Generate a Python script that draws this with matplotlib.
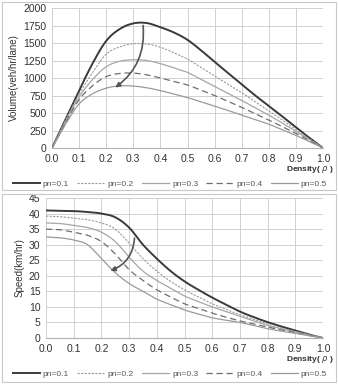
import matplotlib
matplotlib.use('Agg')
import matplotlib.pyplot as plt
from matplotlib.patches import Rectangle
import numpy as np

plt.rcParams['font.family'] = ['Liberation Sans', 'DejaVu Sans']

density = [0.0, 0.05, 0.1, 0.15, 0.2, 0.25, 0.3, 0.35, 0.4, 0.45, 0.5,
           0.55, 0.6, 0.65, 0.7, 0.75, 0.8, 0.85, 0.9, 0.95, 1.0]
labels = ['pn=0.1', 'pn=0.2', 'pn=0.3', 'pn=0.4', 'pn=0.5']

volume_01 = [0, 410, 820, 1210, 1530, 1700, 1780, 1785, 1725, 1650, 1545,
             1395, 1230, 1070, 910, 750, 600, 450, 295, 145, 0]
volume_02 = [0, 400, 770, 1080, 1340, 1445, 1490, 1485, 1440, 1360, 1270,
             1150, 1030, 910, 790, 660, 530, 400, 265, 130, 0]
volume_03 = [0, 380, 730, 980, 1160, 1240, 1260, 1250, 1205, 1145, 1080,
             980, 880, 780, 680, 575, 470, 355, 240, 120, 0]
volume_04 = [0, 360, 690, 890, 1020, 1065, 1070, 1045, 1000, 950, 900,
             825, 750, 665, 580, 490, 400, 305, 210, 105, 0]
volume_05 = [0, 340, 630, 775, 855, 888, 885, 860, 820, 770, 720,
             660, 600, 535, 470, 405, 340, 260, 180, 90, 0]

speed_01 = [41.0, 40.9, 40.8, 40.5, 40.0, 38.8, 35.5, 30.0, 25.5, 21.5, 18.2,
            15.5, 13.0, 10.7, 8.5, 6.7, 5.1, 3.7, 2.4, 1.1, 0.0]
speed_02 = [39.2, 39.0, 38.5, 38.0, 37.0, 35.0, 30.5, 25.5, 21.5, 18.2, 15.5,
            13.2, 11.0, 9.2, 7.5, 6.0, 4.5, 3.2, 2.0, 1.0, 0.0]
speed_03 = [37.0, 36.8, 36.2, 35.5, 34.0, 31.0, 26.0, 21.5, 18.5, 16.0, 13.5,
            11.7, 10.0, 8.5, 7.0, 5.5, 4.0, 3.0, 2.0, 1.0, 0.0]
speed_04 = [35.0, 34.8, 34.0, 33.0, 31.0, 27.0, 22.0, 18.5, 15.5, 13.2, 11.0,
            9.5, 8.0, 6.7, 5.5, 4.5, 3.5, 2.6, 1.7, 0.8, 0.0]
speed_05 = [32.5, 32.2, 31.5, 30.0, 25.5, 21.0, 17.5, 15.0, 12.5, 10.7, 9.0,
            7.7, 6.5, 5.7, 5.0, 4.0, 3.0, 2.2, 1.5, 0.7, 0.0]

volumes = [volume_01, volume_02, volume_03, volume_04, volume_05]
speeds = [speed_01, speed_02, speed_03, speed_04, speed_05]

styles = [
    dict(color='#3a3a3a', lw=1.4, ls='-'),
    dict(color='#9a9a9a', lw=0.8, ls=(0, (2, 1.2))),
    dict(color='#a6a6a6', lw=0.9, ls='-'),
    dict(color='#6e6e6e', lw=0.9, ls=(0, (5, 3))),
    dict(color='#9a9a9a', lw=0.9, ls='-'),
]


def smooth(x, y, n=12):
    # catmull-rom rendering, like excel's "smoothed line"
    x = np.asarray(x, float)
    y = np.asarray(y, float)
    px = np.concatenate([[2 * x[0] - x[1]], x, [2 * x[-1] - x[-2]]])
    py = np.concatenate([[2 * y[0] - y[1]], y, [2 * y[-1] - y[-2]]])
    xs, ys = [], []
    t = np.linspace(0, 1, n, endpoint=False)
    for i in range(1, len(px) - 2):
        for p, out in ((px, xs), (py, ys)):
            p0, p1, p2, p3 = p[i - 1], p[i], p[i + 1], p[i + 2]
            out.extend(0.5 * (2 * p1 + (-p0 + p2) * t + (2 * p0 - 5 * p1 + 4 * p2 - p3) * t ** 2
                              + (-p0 + 3 * p1 - 3 * p2 + p3) * t ** 3))
    xs.append(x[-1])
    ys.append(y[-1])
    return xs, ys


fig = plt.figure(figsize=(3.38, 3.84), dpi=100)

# panel borders
for y0, h in [(1 - 190 / 384, 188 / 384), (2 / 384, 188 / 384)]:
    fig.patches.append(Rectangle((2 / 338, y0), 334 / 338, h, transform=fig.transFigure,
                                 fill=False, edgecolor='#c8c8c8', lw=0.8))


def setup(ax, ymax, ystep, ylabel):
    ax.set_xlim(0, 1)
    ax.set_ylim(0, ymax)
    ax.set_xticks(np.arange(0, 1.01, 0.1))
    ax.set_xticklabels(['%.1f' % v for v in np.arange(0, 1.01, 0.1)])
    ax.set_yticks(np.arange(0, ymax + 1, ystep))
    ax.grid(True, color='#d0d0d0', lw=0.7)
    ax.set_axisbelow(True)
    for s in ax.spines.values():
        s.set_visible(False)
    ax.spines['bottom'].set_visible(True)
    ax.spines['bottom'].set_color('#b0b0b0')
    ax.tick_params(length=0, labelsize=7.5, colors='#333333', pad=4)
    ax.set_ylabel(ylabel, fontsize=7, color='#333333', labelpad=3)
    right = (333 - ax.bbox.x0) / ax.bbox.width
    ax.text(right, -0.155, 'Density( $\\rho$ )', transform=ax.transAxes, ha='right',
            va='center', fontsize=6, fontweight='bold', color='#333333')
    ax.legend(ncol=5, loc='center', bbox_to_anchor=((170 - ax.bbox.x0) / ax.bbox.width, -0.26),
              frameon=False, fontsize=6, handlelength=3.2, columnspacing=1.0,
              handletextpad=0.4, labelcolor='#555555')


ax1 = fig.add_axes([52 / 338, 1 - 148 / 384, 271 / 338, 140 / 384])
for v, st, lab in zip(volumes, styles, labels):
    ax1.plot(*smooth(density, v), label=lab, **st)
setup(ax1, 2000, 250, 'Volume(veh/hr/lane)')
ax1.annotate('', xy=(0.225, 840), xytext=(0.335, 1790),
             arrowprops=dict(arrowstyle='-|>', color='#555555', lw=1.2,
                             mutation_scale=7, connectionstyle='arc3,rad=-0.3'))

ax2 = fig.add_axes([46 / 338, 1 - 338 / 384, 277 / 338, 140 / 384])
for v, st, lab in zip(speeds, styles, labels):
    ax2.plot(*smooth(density, v), label=lab, **st)
setup(ax2, 45, 5, 'Speed(km/hr)')
ax2.annotate('', xy=(0.223, 21.3), xytext=(0.32, 33),
             arrowprops=dict(arrowstyle='-|>', color='#555555', lw=1.2,
                             mutation_scale=7, connectionstyle='arc3,rad=-0.35'))

plt.savefig('out.png', dpi=100)
